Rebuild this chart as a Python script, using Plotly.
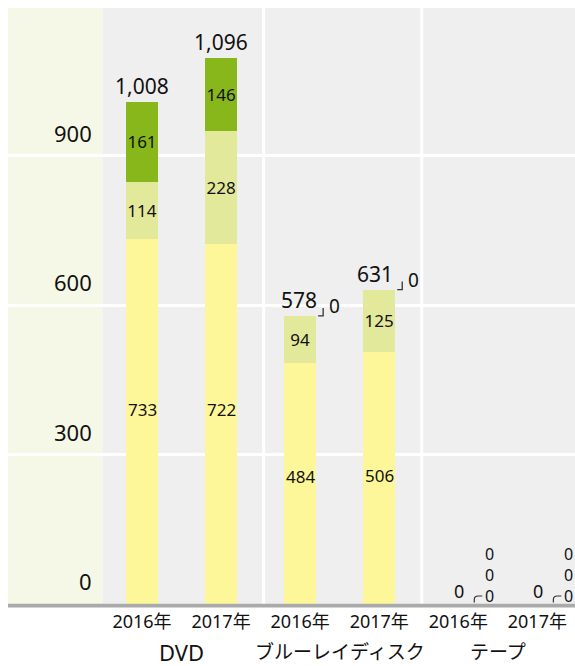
import plotly.graph_objects as go

# ---- data ----
categories = ["2016年", "2017年", "2016年", "2017年", "2016年", "2017年"]
groups = ["DVD", "ブルーレイディスク", "テープ"]
bottom = [733, 722, 484, 506, 0, 0]
middle = [114, 228, 94, 125, 0, 0]
top = [161, 146, 0, 0, 0, 0]
totals = [1008, 1096, 578, 631, 0, 0]
ytick_vals = [0, 300, 600, 900]
ytick_labels = ["0", "300", "600", "900"]

# ---- style ----
FONT = "Noto Sans, Noto Sans CJK JP, sans-serif"
C_BOTTOM = "#fef799"
C_MIDDLE = "#e3e99b"
C_TOP = "#87b71b"
C_PANEL = "#f5f8e6"
C_PLOT = "#efefef"
C_BASE = "#aaaaaa"
YMAX = 1196
XMIN, XMAX = -1.6947, 5.476
BAR_W = 0.40
SEG_SIZE = 17

xs = list(range(len(categories)))

def seg_text(vals):
    return [str(v) if v > 0 else "" for v in vals]

fig = go.Figure()
fig.add_trace(go.Bar(x=xs, y=bottom, width=BAR_W, marker=dict(color=C_BOTTOM, line=dict(width=0)),
                     textposition="none", hoverinfo="skip"))
fig.add_trace(go.Bar(x=xs, y=middle, width=BAR_W, marker=dict(color=C_MIDDLE, line=dict(width=0)),
                     text=seg_text(middle), textposition="inside", insidetextanchor="middle",
                     textangle=0, constraintext="none",
                     textfont=dict(size=SEG_SIZE, color="#111111", family=FONT), hoverinfo="skip"))
fig.add_trace(go.Bar(x=xs, y=top, width=BAR_W, marker=dict(color=C_TOP, line=dict(width=0)),
                     text=seg_text(top), textposition="inside", insidetextanchor="middle",
                     textangle=0, constraintext="none",
                     textfont=dict(size=SEG_SIZE, color="#111111", family=FONT), hoverinfo="skip"))

shapes = []
# left panel and plot background
shapes.append(dict(type="rect", xref="x", yref="paper", x0=XMIN, x1=-0.5, y0=0, y1=1,
                   fillcolor=C_PANEL, line=dict(width=0), layer="below"))
shapes.append(dict(type="rect", xref="x", yref="paper", x0=-0.5, x1=XMAX, y0=0, y1=1,
                   fillcolor=C_PLOT, line=dict(width=0), layer="below"))
# group separators
for sep in [1.5, 3.5]:
    shapes.append(dict(type="line", xref="x", xsizemode="pixel", xanchor=sep, x0=3, x1=3,
                       yref="paper", y0=0, y1=1, line=dict(color="white", width=3), layer="below"))
# baseline
shapes.append(dict(type="rect", xref="paper", yref="paper", x0=0, x1=1, y0=-0.0059, y1=0.0005,
                   fillcolor=C_BASE, line=dict(width=0), layer="above"))

annotations = []
# y tick labels (above the gridlines)
for v, lab in zip(ytick_vals, ytick_labels):
    annotations.append(dict(x=-0.5, xref="x", xshift=-8, y=v, yref="y", yshift=6,
                            text=lab, showarrow=False, xanchor="right", yanchor="bottom",
                            font=dict(size=22, color="#111111", family=FONT)))
# bottom segment labels
bottom_yshift = [12, 15, 7, 2, 0, 0]
for i, v in enumerate(bottom):
    if v > 0:
        annotations.append(dict(x=xs[i], y=v / 2, xref="x", yref="y", yshift=bottom_yshift[i],
                                text=str(v), showarrow=False, xanchor="center", yanchor="middle",
                                font=dict(size=SEG_SIZE, color="#111111", family=FONT)))
# totals
total_xshift = [0, 0, -1, -4, 1, 1]
for i, t in enumerate(totals):
    if t > 0:
        annotations.append(dict(x=xs[i], y=t, xref="x", yref="y", xshift=total_xshift[i], yshift=0,
                                text=f"{t:,}", showarrow=False, xanchor="center", yanchor="bottom",
                                font=dict(size=21, color="#111111", family=FONT)))
    else:
        annotations.append(dict(x=xs[i], y=t, xref="x", yref="y", xshift=total_xshift[i], yshift=13,
                                text=f"{t:,}", showarrow=False, xanchor="center", yanchor="middle",
                                font=dict(size=18, color="#111111", family=FONT)))

# zero-valued segment labels with connectors
for i in xs:
    if totals[i] > 0 and top[i] == 0:
        annotations.append(dict(x=xs[i], y=totals[i], xref="x", yref="y", xshift=34, yshift=10,
                                text=str(top[i]), showarrow=False, xanchor="center", yanchor="middle",
                                font=dict(size=19, color="#111111", family=FONT)))
        shapes.append(dict(type="path", xref="x", yref="y", xsizemode="pixel", ysizemode="pixel",
                           xanchor=xs[i], yanchor=totals[i], path="M18,0 L23,0 L23,8",
                           line=dict(color="#333333", width=1.3), layer="above"))
    elif totals[i] == 0:
        stacked = "<br>".join(str(v) for v in (top[i], middle[i], bottom[i]))
        annotations.append(dict(x=xs[i], y=0, xref="x", yref="y", xshift=31, yshift=29,
                                text=stacked, showarrow=False, xanchor="center", yanchor="middle",
                                align="center",
                                font=dict(size=16, color="#111111", family=FONT)))
        shapes.append(dict(type="path", xref="x", yref="y", xsizemode="pixel", ysizemode="pixel",
                           xanchor=xs[i], yanchor=0, path="M16,1.5 L16,4.5 Q16,8 20,8 L24,8",
                           line=dict(color="#333333", width=1.2), layer="above"))

# group labels
group_sizes = [22, 19, 19]
for g, gx, gs in zip(groups, [0.5, 2.5, 4.5], group_sizes):
    annotations.append(dict(x=gx, y=0, xref="x", yref="paper", yshift=-48,
                            text=g, showarrow=False, xanchor="center", yanchor="middle",
                            font=dict(size=gs, color="#111111", family=FONT)))

fig.update_layout(
    width=575, height=666,
    margin=dict(l=8, r=0, t=8, b=62),
    paper_bgcolor="white",
    plot_bgcolor="rgba(0,0,0,0)",
    barmode="stack",
    showlegend=False,
    font=dict(family=FONT, color="#111111"),
    shapes=shapes,
    annotations=annotations,
    xaxis=dict(range=[XMIN, XMAX], tickvals=xs, ticktext=categories, showgrid=False,
               zeroline=False, showline=False, ticks="", ticklabelstandoff=5,
               tickfont=dict(size=18, family=FONT, color="#111111"), fixedrange=True),
    yaxis=dict(range=[0, YMAX], tickvals=ytick_vals, showticklabels=False, showgrid=True,
               gridcolor="white", gridwidth=2.5, zeroline=False, showline=False, ticks="",
               fixedrange=True),
)

fig.write_html("out.html", config={"displayModeBar": False},
               post_script="document.body.style.margin='0';document.body.style.overflow='hidden';")
